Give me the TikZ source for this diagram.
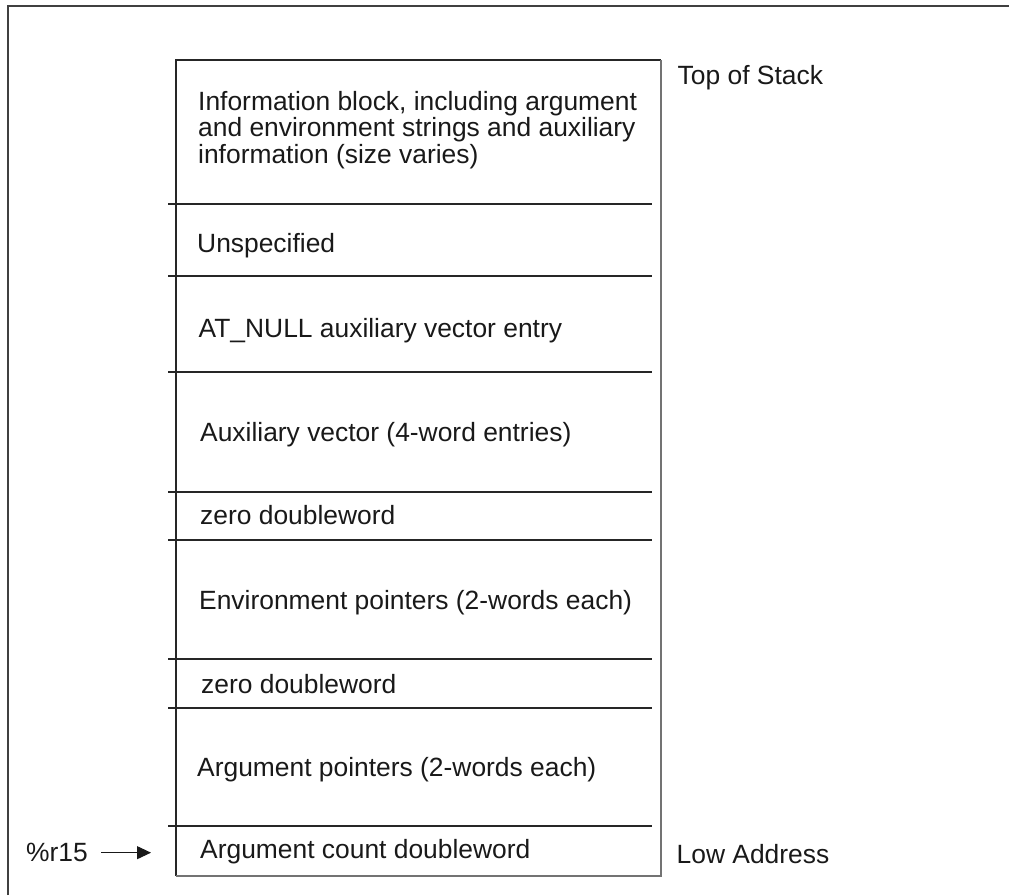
\documentclass[tikz,border=0pt]{standalone}
\usepackage{fontspec}
\setmainfont{Liberation Sans}
\usetikzlibrary{positioning,arrows.meta}

\begin{document}
\begin{tikzpicture}[
  x=1pt,y=-1pt,
  frame/.style={line width=1.5pt,draw=black!75},
  stackbox/.style={line width=1.2pt,draw=black!85},
  stackedge/.style={line width=1.5pt,draw=black!55},
  divider/.style={line width=1.1pt,draw=black!85},
  entry/.style={anchor=base west,inner sep=0pt,text=black!90,
                font=\fontsize{26.4}{26.4}\selectfont},
  arr/.style={-{Triangle[length=14pt,width=13pt]},line width=1.1pt,black!90},
]
  \useasboundingbox (0,0) rectangle (1009,895);
  \draw[frame] (8,895) -- (8,6) -- (1009,6);

  % the stack
  \draw[stackbox] (176,876) -- (176,60) -- (661,60);
  \draw[stackedge] (661,60) -- (661,876) -- (176,876);
  \foreach \y in {204,276,372,492,540,659,708,826}
    \draw[divider] (168,\y) -- (652,\y);

  % base of a multi-line node is its last line
  \node[entry,align=left] (info) at (198,163)
    {Information block, including argument\\and environment strings and auxiliary\\information (size varies)};
  \node[entry] (unspec) at (197,252.7) {Unspecified};
  \node[entry] (atnull) at (198.5,337) {AT\_NULL auxiliary vector entry};
  \node[entry] (auxvec) at (200,441.7) {Auxiliary vector (4-word entries)};
  \node[entry] (zero1)  at (200,524) {zero doubleword};
  \node[entry] (envptr) at (199,609) {Environment pointers (2-words each)};
  \node[entry] (zero2)  at (201,693.3) {zero doubleword};
  \node[entry] (argptr) at (197,776.7) {Argument pointers (2-words each)};
  \node[entry] (argcnt) at (200,858.3) {Argument count doubleword};

  \node[entry] (top) at (677.5,84.3) {Top of Stack};
  \node[entry] (low) at (676.5,863.3) {Low Address};
  \node[entry] (r15) at (26,861.7) {\%r15};

  \coordinate (tip) at (151,852);
  \draw[arr,shorten <=13pt] (r15.east) -- (r15.east -| tip);
\end{tikzpicture}
\end{document}
